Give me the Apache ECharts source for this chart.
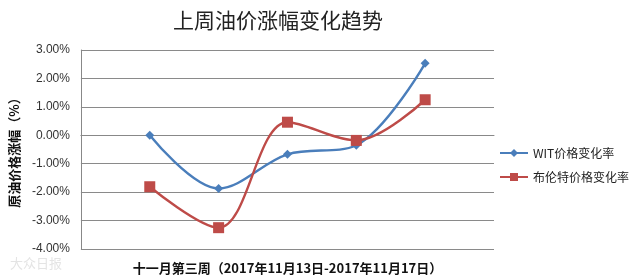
<!DOCTYPE html>
<html><head><meta charset="utf-8">
<script src="https://cdn.jsdelivr.net/npm/echarts@6/dist/echarts.min.js"></script>
<style>html,body{margin:0;padding:0;background:#fff}#c{width:640px;height:280px}</style>
</head><body><div id="c"></div>
<script>
const categories = ['', 'd1', 'd2', 'd3', 'd4', 'd5', ''];
const witValues = [null, 0.00, -1.87, -0.67, -0.35, 2.53, null];
const brentValues = [null, -1.81, -3.25, 0.46, -0.18, 1.25, null];
const seriesNames = ['WIT价格变化率', '布伦特价格变化率'];
const titleText = '上周油价涨幅变化趋势';
const xAxisName = '十一月第三周（2017年11月13日-2017年11月17日）';
const yAxisName = '原油价格涨幅（%）';

const chart = echarts.init(document.getElementById('c'));
const font = '"Noto Sans CJK SC", "Microsoft YaHei", sans-serif';
chart.setOption({
  animation: false,
  title: { text: titleText, left: 273, textAlign: 'center', top: 5,
    textStyle: { fontFamily: font, fontSize: 21, fontWeight: 'normal', color: '#222' } },
  grid: { left: 80, right: 146, top: 50, bottom: 29 },
  legend: {
    orient: 'vertical', left: 494, top: 142, itemWidth: 28, itemHeight: 10, itemGap: 12,
    textStyle: { fontFamily: font, fontSize: 12, color: '#222' },
    data: seriesNames
  },
  xAxis: {
    type: 'category', data: categories, boundaryGap: false,
    axisLabel: { show: false }, axisTick: { show: false },
    axisLine: { lineStyle: { color: '#888' } },
    name: xAxisName, nameLocation: 'middle', nameGap: 13,
    nameTextStyle: { fontFamily: font, fontSize: 13, fontWeight: 'bold', color: '#111' }
  },
  yAxis: {
    type: 'value', min: -4, max: 3, interval: 1,
    axisLine: { show: true, lineStyle: { color: '#888' } },
    axisTick: { show: false },
    splitLine: { lineStyle: { color: '#8a8a8a', width: 1 } },
    axisLabel: { formatter: v => v.toFixed(2) + '%', fontFamily: '"Liberation Sans", Arial, sans-serif', fontSize: 12, color: '#333', margin: 11 },
    name: yAxisName, nameLocation: 'middle', nameGap: 58, nameRotate: 90,
    nameTextStyle: { fontFamily: font, fontSize: 13, fontWeight: 'bold', color: '#111' }
  },
  graphic: [{ type: 'text', left: 10, top: 257,
    style: { text: '大众日报', fill: '#e4e4e4', font: '13px ' + font } }],
  series: [
    { name: seriesNames[0], type: 'line', smooth: 0.35, data: witValues,
      symbol: 'diamond', symbolSize: 9,
      itemStyle: { color: '#4A7EBB' }, lineStyle: { width: 2.4, color: '#4A7EBB' } },
    { name: seriesNames[1], type: 'line', smooth: 0.35, data: brentValues,
      symbol: 'rect', symbolSize: 11,
      itemStyle: { color: '#BE4B48' }, lineStyle: { width: 2.4, color: '#BE4B48' } }
  ]
});
</script></body></html>
